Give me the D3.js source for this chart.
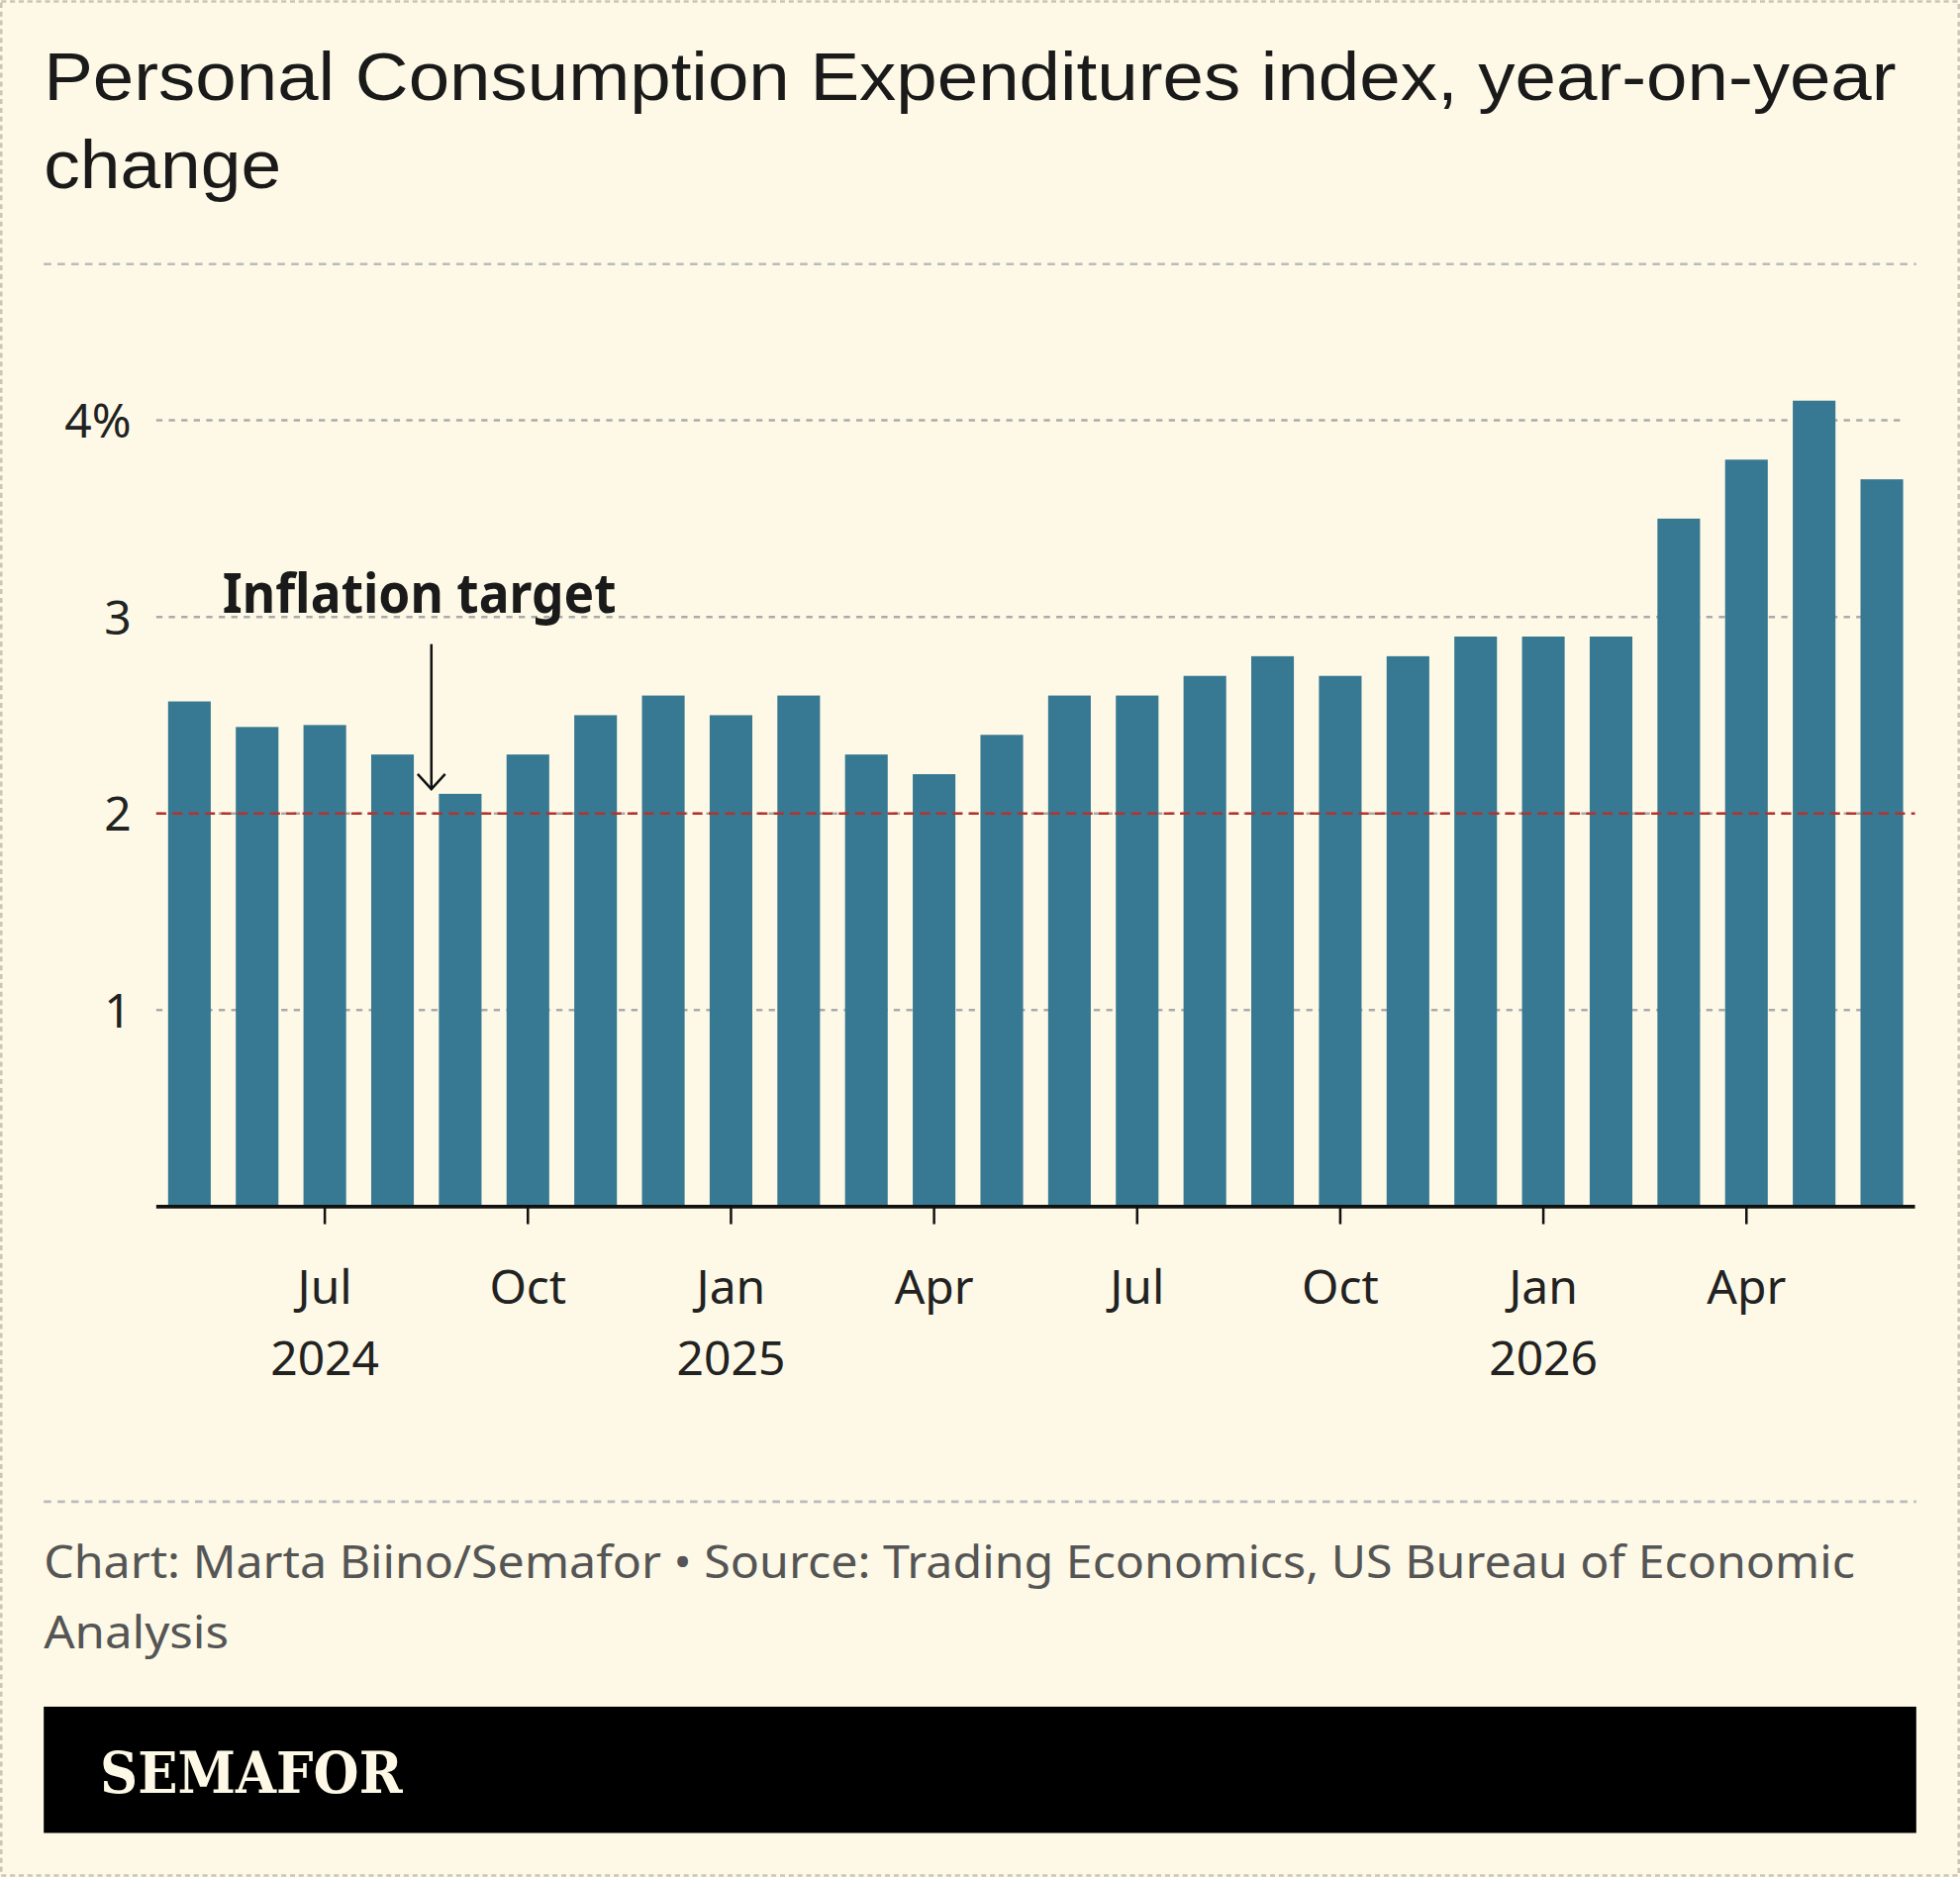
<!DOCTYPE html>
<html><head><meta charset="utf-8">
<script src="https://cdn.jsdelivr.net/npm/d3@7"></script>
<style>body{margin:0;background:#fdf9e6}</style>
</head><body>
<svg id="chart"></svg>
<script>
var months = ["2024-05","2024-06","2024-07","2024-08","2024-09","2024-10","2024-11","2024-12",
  "2025-01","2025-02","2025-03","2025-04","2025-05","2025-06","2025-07","2025-08","2025-09","2025-10","2025-11","2025-12",
  "2026-01","2026-02","2026-03","2026-04","2026-05","2026-06"];
var values = [2.57,2.44,2.45,2.3,2.1,2.3,2.5,2.6,2.5,2.6,2.3,2.2,2.4,2.6,2.6,2.7,2.8,2.7,2.8,2.9,2.9,2.9,3.5,3.8,4.1,3.7];
var yTicks = [1,2,3,4];
var xTicks = [["2024-07","Jul","2024"],["2024-10","Oct",""],["2025-01","Jan","2025"],["2025-04","Apr",""],
  ["2025-07","Jul",""],["2025-10","Oct",""],["2026-01","Jan","2026"],["2026-04","Apr",""]];
var target = 2;

var svg = d3.select('#chart').attr('width',1980).attr('height',1896).attr('viewBox','0 0 1568 1501');
var sans = "'Noto Sans', sans-serif";
svg.append('rect').attr('x',1).attr('y',1).attr('width',1566).attr('height',1499)
  .style('fill','#fdf9e6').style('stroke','#c9c6b8').style('stroke-width',2).style('stroke-dasharray','4,3');

svg.append('text').attr('x',35).attr('y',80).style('font-family',"'Liberation Sans', Arial, sans-serif")
  .attr('textLength',1482).attr('lengthAdjust','spacingAndGlyphs')
  .style('font-size','54px').style('fill','#1a1a1a').text('Personal Consumption Expenditures index, year-on-year');
svg.append('text').attr('x',35).attr('y',150).style('font-family',"'Liberation Sans', Arial, sans-serif")
  .attr('textLength',190).attr('lengthAdjust','spacingAndGlyphs')
  .style('font-size','54px').style('fill','#1a1a1a').text('change');

[211,1201].forEach(function(yy){
  svg.append('line').attr('x1',35).attr('x2',1533).attr('y1',yy).attr('y2',yy)
    .style('stroke','#bbb').style('stroke-width',2).style('stroke-dasharray','6,5');
});

var x = d3.scaleBand().domain(months).range([125,1532]).paddingInner(0.37).paddingOuter(0.175);
var y = d3.scaleLinear().domain([0,4]).range([965,336]);

yTicks.forEach(function(t){
  svg.append('line').attr('x1',125).attr('x2',1525).attr('y1',y(t)).attr('y2',y(t))
    .style('stroke','#aaa').style('stroke-width',2).style('stroke-dasharray','5,5');
  svg.append('text').attr('x',105).attr('y',y(t)+14).attr('text-anchor','end')
    .style('font-family',sans).style('font-size','38px').style('fill','#222')
    .text(t===4 ? '4%' : t);
});

svg.selectAll('.bar').data(values).enter().append('rect')
  .attr('x',function(d,i){return x(months[i]);})
  .attr('y',function(d){return y(d);})
  .attr('width',x.bandwidth())
  .attr('height',function(d){return y(0)-y(d);})
  .style('fill','#377892');

svg.append('line').attr('x1',125).attr('x2',1532).attr('y1',y(target)).attr('y2',y(target))
  .style('stroke','#b5332e').style('stroke-width',2).style('stroke-dasharray','8,5');

svg.append('line').attr('x1',125).attr('x2',1532).attr('y1',y(0)).attr('y2',y(0))
  .style('stroke','#111').style('stroke-width',3);

xTicks.forEach(function(t){
  var cx = x(t[0]) + x.bandwidth()/2;
  svg.append('line').attr('x1',cx).attr('x2',cx).attr('y1',y(0)).attr('y2',y(0)+14)
    .style('stroke','#111').style('stroke-width',2);
  svg.append('text').attr('x',cx).attr('y',1043).attr('text-anchor','middle')
    .style('font-family',sans).style('font-size','38px').style('fill','#222').text(t[1]);
  if (t[2]) svg.append('text').attr('x',cx).attr('y',1100).attr('text-anchor','middle')
    .style('font-family',sans).style('font-size','38px').style('fill','#222').text(t[2]);
});

// annotation
svg.append('text').attr('x',178).attr('y',490)
  .attr('textLength',315).attr('lengthAdjust','spacingAndGlyphs')
  .style('font-family',"'Noto Sans',sans-serif")
  .style('font-weight','bold').style('font-size','44px').style('fill','#1a1a1a')
  .text('Inflation target');
var ax = x(months[4]) - 6;
svg.append('line').attr('x1',ax).attr('x2',ax).attr('y1',515).attr('y2',631).style('stroke','#111').style('stroke-width',2);
svg.append('path').attr('d','M'+(ax-11)+',619 L'+ax+',631 L'+(ax+11)+',619')
  .style('fill','none').style('stroke','#111').style('stroke-width',2);

svg.append('text').attr('x',35).attr('y',1262).style('font-family',sans).style('font-size','36px').style('fill','#555')
  .attr('textLength',1449).attr('lengthAdjust','spacingAndGlyphs')
  .text('Chart: Marta Biino/Semafor \u2022 Source: Trading Economics, US Bureau of Economic');
svg.append('text').attr('x',35).attr('y',1318).style('font-family',sans).style('font-size','36px').style('fill','#555')
  .attr('textLength',148).attr('lengthAdjust','spacingAndGlyphs')
  .text('Analysis');

svg.append('rect').attr('x',35).attr('y',1365).attr('width',1498).attr('height',101).style('fill','#000');
svg.append('text').attr('x',80).attr('y',1434).style('font-family',"'DejaVu Serif','Liberation Serif',serif")
  .attr('textLength',242).attr('lengthAdjust','spacingAndGlyphs')
  .style('font-weight','bold').style('font-size','46px').style('fill','#fdf9e6').text('SEMAFOR');
</script>
</body></html>
